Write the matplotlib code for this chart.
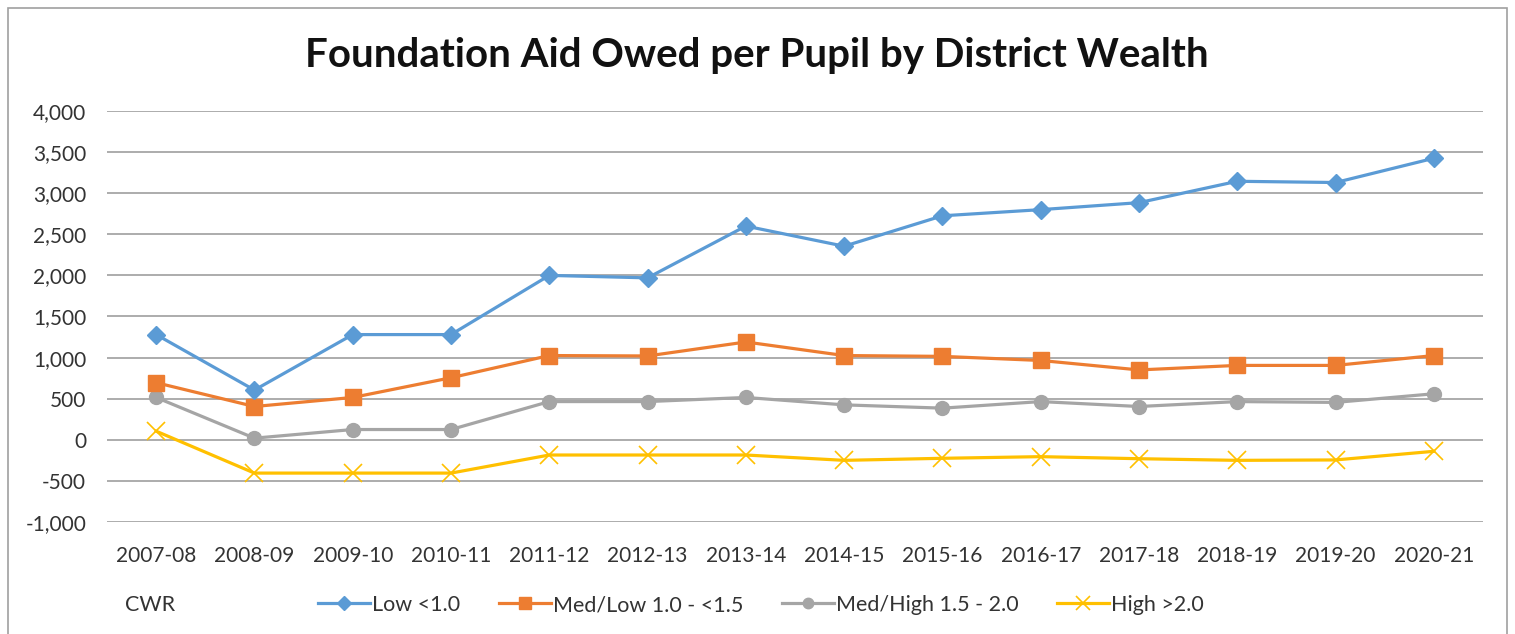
import matplotlib
matplotlib.use("Agg")
import matplotlib.pyplot as plt
from matplotlib.patches import Rectangle

years = ["2007-08", "2008-09", "2009-10", "2010-11", "2011-12", "2012-13", "2013-14",
         "2014-15", "2015-16", "2016-17", "2017-18", "2018-19", "2019-20", "2020-21"]
low = [1280, 605, 1280, 1280, 2000, 1970, 2600, 2355, 2725, 2800, 2885, 3145, 3130, 3425]
med_low = [695, 405, 515, 755, 1025, 1020, 1190, 1025, 1015, 965, 850, 905, 905, 1025]
med_high = [515, 20, 125, 125, 465, 465, 515, 425, 385, 465, 405, 465, 455, 560]
high = [105, -405, -405, -405, -185, -185, -185, -250, -225, -205, -230, -250, -245, -140]
labels = ["Low <1.0", "Med/Low 1.0 - <1.5", "Med/High 1.5 - 2.0", "High >2.0"]
yticks = list(range(-1000, 4001, 500))

plt.rcParams['font.family'] = ['Lato', 'DejaVu Sans']

fig = plt.figure(figsize=(15.15, 6.34), dpi=100)
fig.patches.append(Rectangle((8/1515, -0.05), (1507-8)/1515, 1 - 8/634 + 0.05,
                             transform=fig.transFigure, fill=False,
                             edgecolor="#A0A0A0", linewidth=1.2))
ax = fig.add_axes([107/1515, 1 - 522/634, (1483-107)/1515, (522-111)/634])

x = list(range(len(years)))
ax.plot(x, low, color="#5B9BD5", lw=2.3, marker="D", ms=9, label=labels[0], zorder=5)
ax.plot(x, med_low, color="#ED7D31", lw=2.3, marker="s", ms=11, label=labels[1], zorder=4)
ax.plot(x, med_high, color="#A5A5A5", lw=2.3, marker="o", ms=10, label=labels[2], zorder=3)
ax.plot(x, high, color="#FFC000", lw=2.3, marker="x", ms=13, mew=1.2, label=labels[3], zorder=2)

ax.set_xlim(-0.5, len(years) - 0.5)
ax.set_ylim(-1000, 4000)
ax.set_yticks(yticks)
ax.set_yticklabels([f"{v:,}" for v in yticks], fontsize=15, color="#333333")
ax.set_xticks(x)
ax.set_xticklabels(years, fontsize=15, color="#333333")
ax.tick_params(length=0)
ax.tick_params(axis='y', pad=15)
ax.tick_params(axis='x', pad=17)
ax.yaxis.grid(True, color="#A6A6A6", lw=1.3)
ax.set_axisbelow(True)
for s in ax.spines.values():
    s.set_visible(False)

fig.text(757/1515, 1 - 56/634, "Foundation Aid Owed per Pupil by District Wealth",
         ha="center", va="center", fontsize=29, fontweight="bold", color="#111111")
fig.text(125/1515, 1 - 605/634, "CWR", ha="left", va="center", fontsize=15.5, color="#333333")
fig.legend(loc="center", bbox_to_anchor=(761/1515, 1 - 605/634), ncol=4, frameon=False,
           fontsize=15.5, handlelength=2.4, columnspacing=1.8, handletextpad=0.1,
           markerscale=0.75, labelcolor="#333333")

fig.savefig("out.png", dpi=100, facecolor="white")
